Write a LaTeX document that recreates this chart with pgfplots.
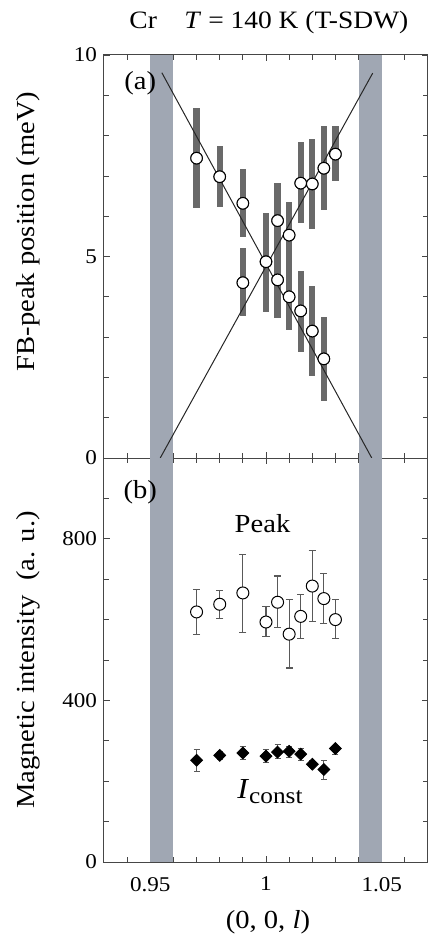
\documentclass[border=0pt]{standalone}
\usepackage{fontspec}
\setmainfont[FakeStretch=1.1]{Liberation Serif}
\usepackage{pgfplots}
\usepackage{pgfplotstable}
\pgfplotsset{compat=1.18}
\definecolor{bandgray}{RGB}{160,167,179}
\definecolor{barcol}{RGB}{105,105,105}
\definecolor{axcol}{RGB}{70,70,70}

\pgfplotstableread{
x y ep em
0.97 7.44 1.24 1.24
0.98 6.98 0.76 0.74
0.99 6.32 0.84 0.83
0.99 4.35 0.85 0.83
1.00 4.87 1.22 1.24
1.005 5.89 0.94 0.94
1.005 4.42 0.94 0.94
1.01 5.53 0.83 0.83
1.01 4.00 0.82 0.82
1.015 6.82 1.03 1.00
1.015 3.65 1.00 1.01
1.02 6.80 1.12 1.12
1.02 3.15 1.13 1.12
1.025 7.19 1.05 1.04
1.025 2.46 1.05 1.04
1.03 7.54 0.70 0.67
}\peaks

\pgfplotstableread{
x y ep em
0.97 619 56 56
0.98 638 34 36
0.99 666 95 97
1.00 594 39 35
1.005 643 65 63
1.01 564 85 84
1.015 608 54 55
1.02 683 88 87
1.025 652 62 62
1.03 600 49 47
}\peakint

\pgfplotstableread{
x y ep em
0.97 252 26 27
0.98 264 10 10
0.99 270 16 17
1.00 262 16 15
1.005 272 18 16
1.01 274 12 16
1.015 267 14 15
1.02 242 8 8
1.025 229 23 25
1.03 281 8 14
}\constint

\begin{document}
\begin{tikzpicture}
\path[use as bounding box] (-52pt,-243pt) rectangle (163pt,229pt);
\pgfplotsset{
  every axis/.append style={
    scale only axis, width=162pt,
    xmin=0.93, xmax=1.07,
    xtick={0.95,1,1.05},
    minor xtick={0.94,0.96,0.97,0.98,0.99,1.01,1.02,1.03,1.04,1.06},
    axis line style={axcol, line width=0.5pt},
    every tick/.style={axcol, line width=0.4pt},
    major tick length=3pt, minor tick length=2.5pt,
    tick align=inside,
    /pgf/number format/assume math mode=true,
    tick label style={font=\fontsize{10.5}{12}\selectfont},
    label style={font=\fontsize{13}{15}\selectfont},
  },
}
\begin{axis}[name=A, at={(0,0)}, anchor=south west, height=201.5pt,
  ymin=0, ymax=10, ytick={0,5,10}, minor ytick={1,2,3,4,6,7,8,9},
  xticklabels={},
  ylabel={FB-peak position (meV)},
  ylabel style={at={(axis description cs:-0.235,0.562)}, anchor=center},
  title={Cr\hspace{1.1em}\textit{T} = 140 K (T-SDW)},
  title style={at={(axis description cs:0.509,1)}, anchor=center, yshift=10.5pt, font=\fontsize{12.5}{14}\selectfont},
]
\addplot[fill=bandgray, draw=none] coordinates {(0.95,0) (0.96,0) (0.96,10) (0.95,10)} -- cycle;
\addplot[fill=bandgray, draw=none] coordinates {(1.04,0) (1.05,0) (1.05,10) (1.04,10)} -- cycle;
\addplot[only marks, mark=*, mark size=2.9pt, mark options={fill=white, draw=black, line width=0.5pt},
  error bars/.cd, y dir=both, y explicit, error mark=none,
  error bar style={line width=3.2pt, color=barcol}]
  table[x=x, y=y, y error plus=ep, y error minus=em] {\peaks};
\addplot[black!85, line width=0.5pt] coordinates {(0.955,9.56) (1.0457,0)};
\addplot[black!85, line width=0.5pt] coordinates {(0.9543,0) (1.0461,9.55)};
\addplot[only marks, mark=*, mark size=2.9pt, mark options={fill=white, draw=black, line width=0.5pt}]
  table[x=x, y=y] {\peaks};
\node[font=\fontsize{13}{15}\selectfont] at (axis cs:0.9457,9.31) {(a)};
\end{axis}

\begin{axis}[name=B, at={(0,0)}, anchor=north west, height=202pt,
  ymin=0, ymax=1000, ytick={0,400,800}, minor ytick={100,200,300,500,600,700,900},
  xticklabels={0.95,1,1.05},
  xticklabel style={yshift=-4pt},
  ylabel={Magnetic intensity\ \ (a. u.)},
  ylabel style={at={(axis description cs:-0.235,0.5)}, anchor=center},
  xlabel={(0, 0, \textit{l})},
  xlabel style={at={(axis description cs:0.506,0)}, anchor=center, yshift=-30pt},
]
\addplot[fill=bandgray, draw=none] coordinates {(0.95,0) (0.96,0) (0.96,1000) (0.95,1000)} -- cycle;
\addplot[fill=bandgray, draw=none] coordinates {(1.04,0) (1.05,0) (1.05,1000) (1.04,1000)} -- cycle;
\addplot[only marks, mark=*, mark size=3pt, mark options={fill=white, draw=black, line width=0.5pt},
  error bars/.cd, y dir=both, y explicit,
  error bar style={line width=0.6pt, color=black!65},
  error mark options={rotate=90, mark size=1.8pt, line width=0.6pt, color=black!65}]
  table[x=x, y=y, y error plus=ep, y error minus=em] {\peakint};
\addplot[only marks, mark=square*, mark size=2.1pt, mark options={rotate=45, fill=black, draw=black},
  error bars/.cd, y dir=both, y explicit,
  error bar style={line width=0.6pt, color=black!65},
  error mark options={rotate=90, mark size=1.5pt, line width=0.6pt, color=black!65}]
  table[x=x, y=y, y error plus=ep, y error minus=em] {\constint};
\node[font=\fontsize{13}{15}\selectfont] at (axis cs:0.9457,915) {(b)};
\node[font=\fontsize{13}{15}\selectfont, anchor=base] at (axis cs:0.9985,816) {Peak};
\node[anchor=base, inner sep=0pt] at (axis cs:1.0017,157) {\fontsize{14.5}{16}\selectfont\textit{I}\raisebox{-0.35ex}{\fontsize{11.5}{13}\selectfont const}};
\end{axis}
\end{tikzpicture}
\end{document}
